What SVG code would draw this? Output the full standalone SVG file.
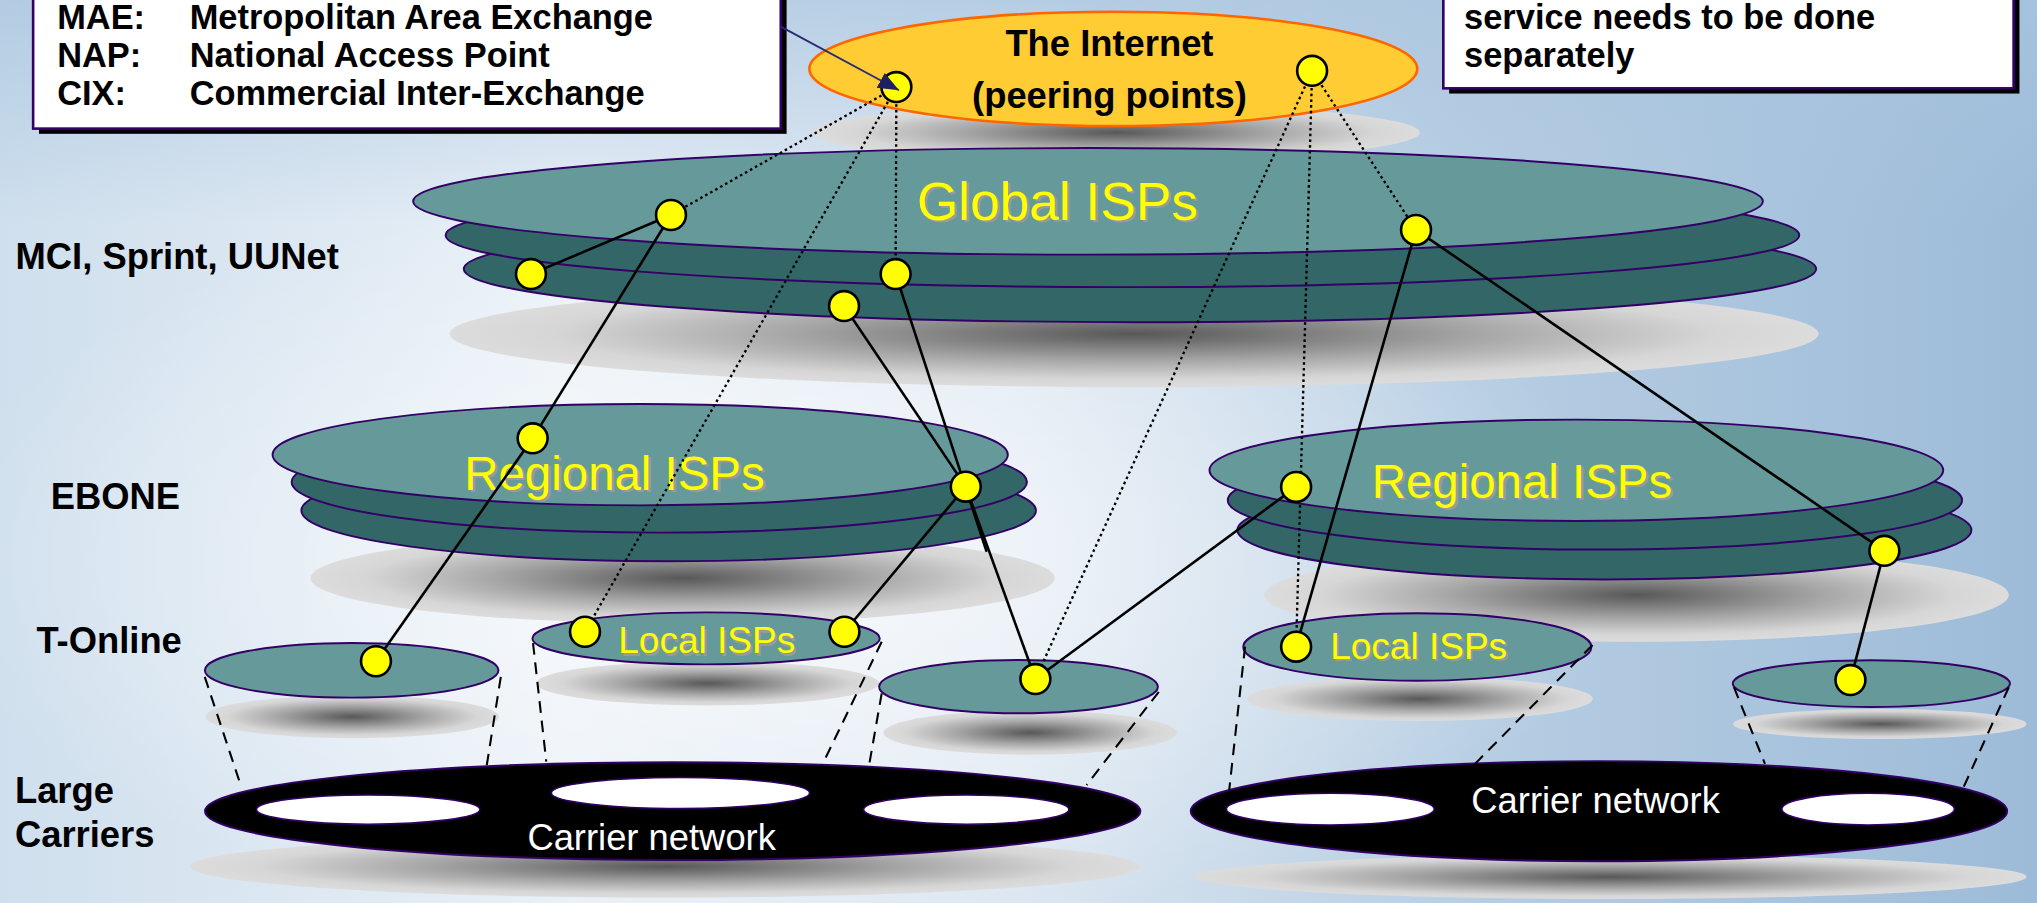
<svg xmlns="http://www.w3.org/2000/svg" width="2037" height="903" viewBox="0 0 2037 903">
<defs>
  <linearGradient id="bg" x1="0" y1="0" x2="1" y2="0">
    <stop offset="0" stop-color="#cfdfed"/>
    <stop offset="0.28" stop-color="#e9f0f7"/>
    <stop offset="0.5" stop-color="#dbe6f1"/>
    <stop offset="0.72" stop-color="#b7cee3"/>
    <stop offset="1" stop-color="#9dbbd8"/>
  </linearGradient>
  <radialGradient id="glow" cx="0.38" cy="0.62" r="0.42">
    <stop offset="0" stop-color="#ffffff" stop-opacity="0.75"/>
    <stop offset="1" stop-color="#ffffff" stop-opacity="0"/>
  </radialGradient>
  <linearGradient id="topblue" x1="0" y1="0" x2="0" y2="1">
    <stop offset="0" stop-color="#a9c5df" stop-opacity="0.75"/>
    <stop offset="0.25" stop-color="#a9c5df" stop-opacity="0"/>
  </linearGradient>
  <radialGradient id="shd">
    <stop offset="0" stop-color="#585858"/>
    <stop offset="0.5" stop-color="#a6a6a6"/>
    <stop offset="0.85" stop-color="#d6d6d6"/>
    <stop offset="1" stop-color="#dcdcdc"/>
  </radialGradient>
  <marker id="ah" markerUnits="userSpaceOnUse" markerWidth="18" markerHeight="14" refX="16" refY="6.5" orient="auto">
    <path d="M0,0 L16,6.5 L0,13 z" fill="#1f1f66"/>
  </marker>
  <style>
    .t1{fill:#669999;stroke:#330066;stroke-width:1.5}
    .t2{fill:#336666;stroke:#330066;stroke-width:1.5}
    .sh{fill:url(#shd)}
    .car{fill:#000;stroke:#330066;stroke-width:1.5}
    .hole{fill:#fff;stroke:#330066;stroke-width:1.2}
    .dot{fill:#ffff00;stroke:#000;stroke-width:2}
    .solid{stroke:#000;stroke-width:2;fill:none}
    .dotted{stroke:#000;stroke-width:1.8;stroke-dasharray:2 2.4;fill:none}
    .dash{stroke:#000;stroke-width:1.6;stroke-dasharray:9 6;fill:none}
    .lbl{font-family:"Liberation Sans",Arial,Helvetica,sans-serif;font-weight:bold;font-size:28px;fill:#000}
    .bx{font-family:"Liberation Sans",Arial,Helvetica,sans-serif;font-weight:bold;font-size:26.5px;fill:#000}
    .yl{font-family:"Liberation Sans",Arial,Helvetica,sans-serif;fill:#ffff00;text-anchor:middle}
    .ys{font-family:"Liberation Sans",Arial,Helvetica,sans-serif;fill:#9a9a9a;text-anchor:middle}
    .wt{font-family:"Liberation Sans",Arial,Helvetica,sans-serif;fill:#fff;font-size:28px;text-anchor:middle}
    .box{fill:#fff;stroke:#330066;stroke-width:2}
    .boxsh{fill:#000}
  </style>
</defs>
<rect x="0" y="0" width="2037" height="903" fill="url(#bg)"/>
<rect x="0" y="0" width="2037" height="903" fill="url(#glow)"/>
<rect x="0" y="0" width="2037" height="903" fill="url(#topblue)"/>
<g transform="scale(1.29911)">
  <g id="internet-shadow">
    <ellipse class="sh" cx="859" cy="102" rx="234" ry="22"/>
  </g>
  <g id="global-isps">
    <ellipse class="sh" cx="873" cy="257" rx="527" ry="41"/>
    <ellipse class="t2" cx="877.5" cy="207" rx="520.5" ry="41"/>
    <ellipse class="t2" cx="864" cy="181" rx="521" ry="40"/>
    <ellipse class="t1" cx="837.5" cy="155" rx="519.5" ry="41"/>
    <text class="ys" x="816" y="171" font-size="41">Global ISPs</text>
    <text class="yl" x="814" y="169" font-size="41">Global ISPs</text>
  </g>
  <g id="internet">
    <ellipse cx="857" cy="53" rx="234" ry="44" fill="#ffcc33" stroke="#ff6600" stroke-width="2"/>
    <text class="lbl" x="854" y="43" text-anchor="middle">The Internet</text>
    <text class="lbl" x="854" y="83.5" text-anchor="middle">(peering points)</text>
  </g>
  <g id="regional-left">
    <ellipse class="sh" cx="525.5" cy="445" rx="286.5" ry="35"/>
    <ellipse class="t2" cx="514.7" cy="393" rx="282.7" ry="39"/>
    <ellipse class="t2" cx="507.5" cy="371" rx="283" ry="39"/>
    <ellipse class="t1" cx="492.8" cy="350" rx="283" ry="39"/>
    <text class="ys" x="475" y="379" font-size="36.5">Regional ISPs</text>
    <text class="yl" x="473" y="377" font-size="36.5">Regional ISPs</text>
  </g>
  <g id="regional-right">
    <ellipse class="sh" cx="1259.7" cy="458" rx="286.6" ry="36"/>
    <ellipse class="t2" cx="1235" cy="408" rx="282.5" ry="38"/>
    <ellipse class="t2" cx="1227.7" cy="385" rx="282.6" ry="38"/>
    <ellipse class="t1" cx="1213.4" cy="362" rx="282.4" ry="39"/>
    <text class="ys" x="1173.5" y="385" font-size="36.5">Regional ISPs</text>
    <text class="yl" x="1171.5" y="383" font-size="36.5">Regional ISPs</text>
  </g>
  <g id="local-left">
    <ellipse class="sh" cx="544.7" cy="526" rx="132" ry="17"/>
    <ellipse class="t1" cx="543.5" cy="491.4" rx="133.7" ry="20"/>
    <text class="ys" x="545.5" y="505" font-size="28.5">Local ISPs</text>
    <text class="yl" x="544" y="503" font-size="28.5">Local ISPs</text>
  </g>
  <g id="local-right">
    <ellipse class="sh" cx="1093" cy="538" rx="133" ry="17"/>
    <ellipse class="t1" cx="1091" cy="498" rx="134" ry="26"/>
    <text class="ys" x="1093.5" y="509" font-size="28.5">Local ISPs</text>
    <text class="yl" x="1092" y="507" font-size="28.5">Local ISPs</text>
  </g>
  <g id="t-online-isp">
    <ellipse class="sh" cx="271" cy="551.7" rx="113" ry="16.5"/>
    <ellipse class="t1" cx="270.7" cy="516" rx="113" ry="21"/>
  </g>
  <g id="middle-isp">
    <ellipse class="sh" cx="793" cy="564" rx="113" ry="17"/>
    <ellipse class="t1" cx="784" cy="528.6" rx="107.3" ry="20.5"/>
  </g>
  <g id="right-isp">
    <ellipse class="sh" cx="1447" cy="557.3" rx="113" ry="11.5"/>
    <ellipse class="t1" cx="1440.5" cy="526.2" rx="106.7" ry="18"/>
  </g>
  <g id="carrier-left">
    <ellipse class="sh" cx="512" cy="667" rx="365.6" ry="24"/>
    <ellipse class="car" cx="517.8" cy="624.4" rx="360" ry="37.6"/>
    <ellipse class="hole" cx="283.4" cy="623.2" rx="86" ry="11.2"/>
    <ellipse class="hole" cx="523.8" cy="610.4" rx="99.4" ry="11.9"/>
    <ellipse class="hole" cx="743.8" cy="623.2" rx="79" ry="11.2"/>
    <text class="wt" x="501.6" y="654">Carrier network</text>
  </g>
  <g id="carrier-right">
    <ellipse class="sh" cx="1240" cy="675" rx="320" ry="17"/>
    <ellipse class="car" cx="1230.8" cy="624.4" rx="314.2" ry="38.5"/>
    <ellipse class="hole" cx="1024" cy="622.8" rx="80" ry="12.2"/>
    <ellipse class="hole" cx="1438" cy="622.8" rx="66.4" ry="12.2"/>
    <text class="wt" x="1228.2" y="626">Carrier network</text>
  </g>
  <g id="legend-left">
    <rect class="boxsh" x="30" y="-1" width="575.5" height="104"/>
    <rect class="box" x="25.5" y="-5" width="575.5" height="104"/>
    <text class="bx" x="44" y="22">MAE:</text>
    <text class="bx" x="146" y="22">Metropolitan Area Exchange</text>
    <text class="bx" x="44" y="51.5">NAP:</text>
    <text class="bx" x="146" y="51.5">National Access Point</text>
    <text class="bx" x="44" y="81">CIX:</text>
    <text class="bx" x="146" y="81">Commercial Inter-Exchange</text>
  </g>
  <g id="legend-right">
    <rect class="boxsh" x="1115.5" y="-1" width="439" height="73"/>
    <rect class="box" x="1111" y="-5" width="439" height="73"/>
    <text class="bx" x="1127" y="22">service needs to be done</text>
    <text class="bx" x="1127" y="51.5">separately</text>
  </g>
  <g id="level-labels">
    <text class="lbl" x="12" y="207">MCI, Sprint, UUNet</text>
    <text class="lbl" x="39" y="392">EBONE</text>
    <text class="lbl" x="28" y="503">T-Online</text>
    <text class="lbl" x="11.5" y="618.5">Large</text>
    <text class="lbl" x="11.5" y="652">Carriers</text>
  </g>
  <g id="connectors">
    <line class="solid" x1="516.5" y1="165.5" x2="408.7" y2="211"/>
    <line class="solid" x1="516.5" y1="165.5" x2="410" y2="337.4"/>
    <line class="solid" x1="410" y1="337.4" x2="289.4" y2="509"/>
    <line class="solid" x1="649.7" y1="235.6" x2="743.4" y2="374.6"/>
    <line class="solid" x1="689.4" y1="211" x2="759.5" y2="424.7"/>
    <line class="solid" x1="743.4" y1="374.6" x2="650" y2="486.3"/>
    <line class="solid" x1="743.4" y1="374.6" x2="797" y2="522.7"/>
    <line class="solid" x1="797" y1="522.7" x2="997.7" y2="374.8"/>
    <line class="solid" x1="1090" y1="177" x2="997.7" y2="497.8"/>
    <line class="solid" x1="1090" y1="177" x2="1450.5" y2="424"/>
    <line class="solid" x1="1450.5" y1="424" x2="1424.4" y2="523.5"/>
    <line class="dotted" x1="690" y1="67" x2="516.5" y2="165.5"/>
    <line class="dotted" x1="690" y1="67" x2="450.3" y2="486.3"/>
    <line class="dotted" x1="690" y1="67" x2="689.4" y2="211"/>
    <line class="dotted" x1="1010" y1="54.5" x2="797" y2="522.7"/>
    <line class="dotted" x1="1010" y1="54.5" x2="997.7" y2="497.8"/>
    <line class="dotted" x1="1010" y1="54.5" x2="1090" y2="177"/>
    <line class="dash" x1="157.6" y1="521" x2="185.7" y2="605.6"/>
    <line class="dash" x1="385.5" y1="521" x2="374.7" y2="589"/>
    <line class="dash" x1="410.3" y1="495" x2="420.5" y2="586.3"/>
    <line class="dash" x1="678.7" y1="494" x2="632.8" y2="589"/>
    <line class="dash" x1="678.7" y1="533.7" x2="669" y2="589"/>
    <line class="dash" x1="892" y1="532.5" x2="836.4" y2="604.3"/>
    <line class="dash" x1="958.4" y1="497.8" x2="946.2" y2="608"/>
    <line class="dash" x1="1225.9" y1="496.5" x2="1134.4" y2="589"/>
    <line class="dash" x1="1334.7" y1="529" x2="1358.6" y2="588"/>
    <line class="dash" x1="1546.3" y1="529" x2="1511" y2="607"/>
  </g>
  <g id="ports">
    <circle class="dot" cx="690" cy="67" r="11.5"/>
    <circle class="dot" cx="1010" cy="54.5" r="11.5"/>
    <circle class="dot" cx="516.5" cy="165.5" r="11.5"/>
    <circle class="dot" cx="408.7" cy="211" r="11.5"/>
    <circle class="dot" cx="689.4" cy="211" r="11.5"/>
    <circle class="dot" cx="649.7" cy="235.6" r="11.5"/>
    <circle class="dot" cx="1090" cy="177" r="11.5"/>
    <circle class="dot" cx="410" cy="337.4" r="11.5"/>
    <circle class="dot" cx="743.4" cy="374.6" r="11.5"/>
    <circle class="dot" cx="997.7" cy="374.8" r="11.5"/>
    <circle class="dot" cx="1450.5" cy="424" r="11.5"/>
    <circle class="dot" cx="289.4" cy="509" r="11.5"/>
    <circle class="dot" cx="450.3" cy="486.3" r="11.5"/>
    <circle class="dot" cx="650" cy="486.3" r="11.5"/>
    <circle class="dot" cx="797" cy="522.7" r="11.5"/>
    <circle class="dot" cx="997.7" cy="497.8" r="11.5"/>
    <circle class="dot" cx="1424.4" cy="523.5" r="11.5"/>
  </g>
  <g id="legend-arrow">
    <line x1="601" y1="20.5" x2="692" y2="69.5" stroke="#2a2a77" stroke-width="1.4" marker-end="url(#ah)"/>
  </g>
</g>
</svg>
